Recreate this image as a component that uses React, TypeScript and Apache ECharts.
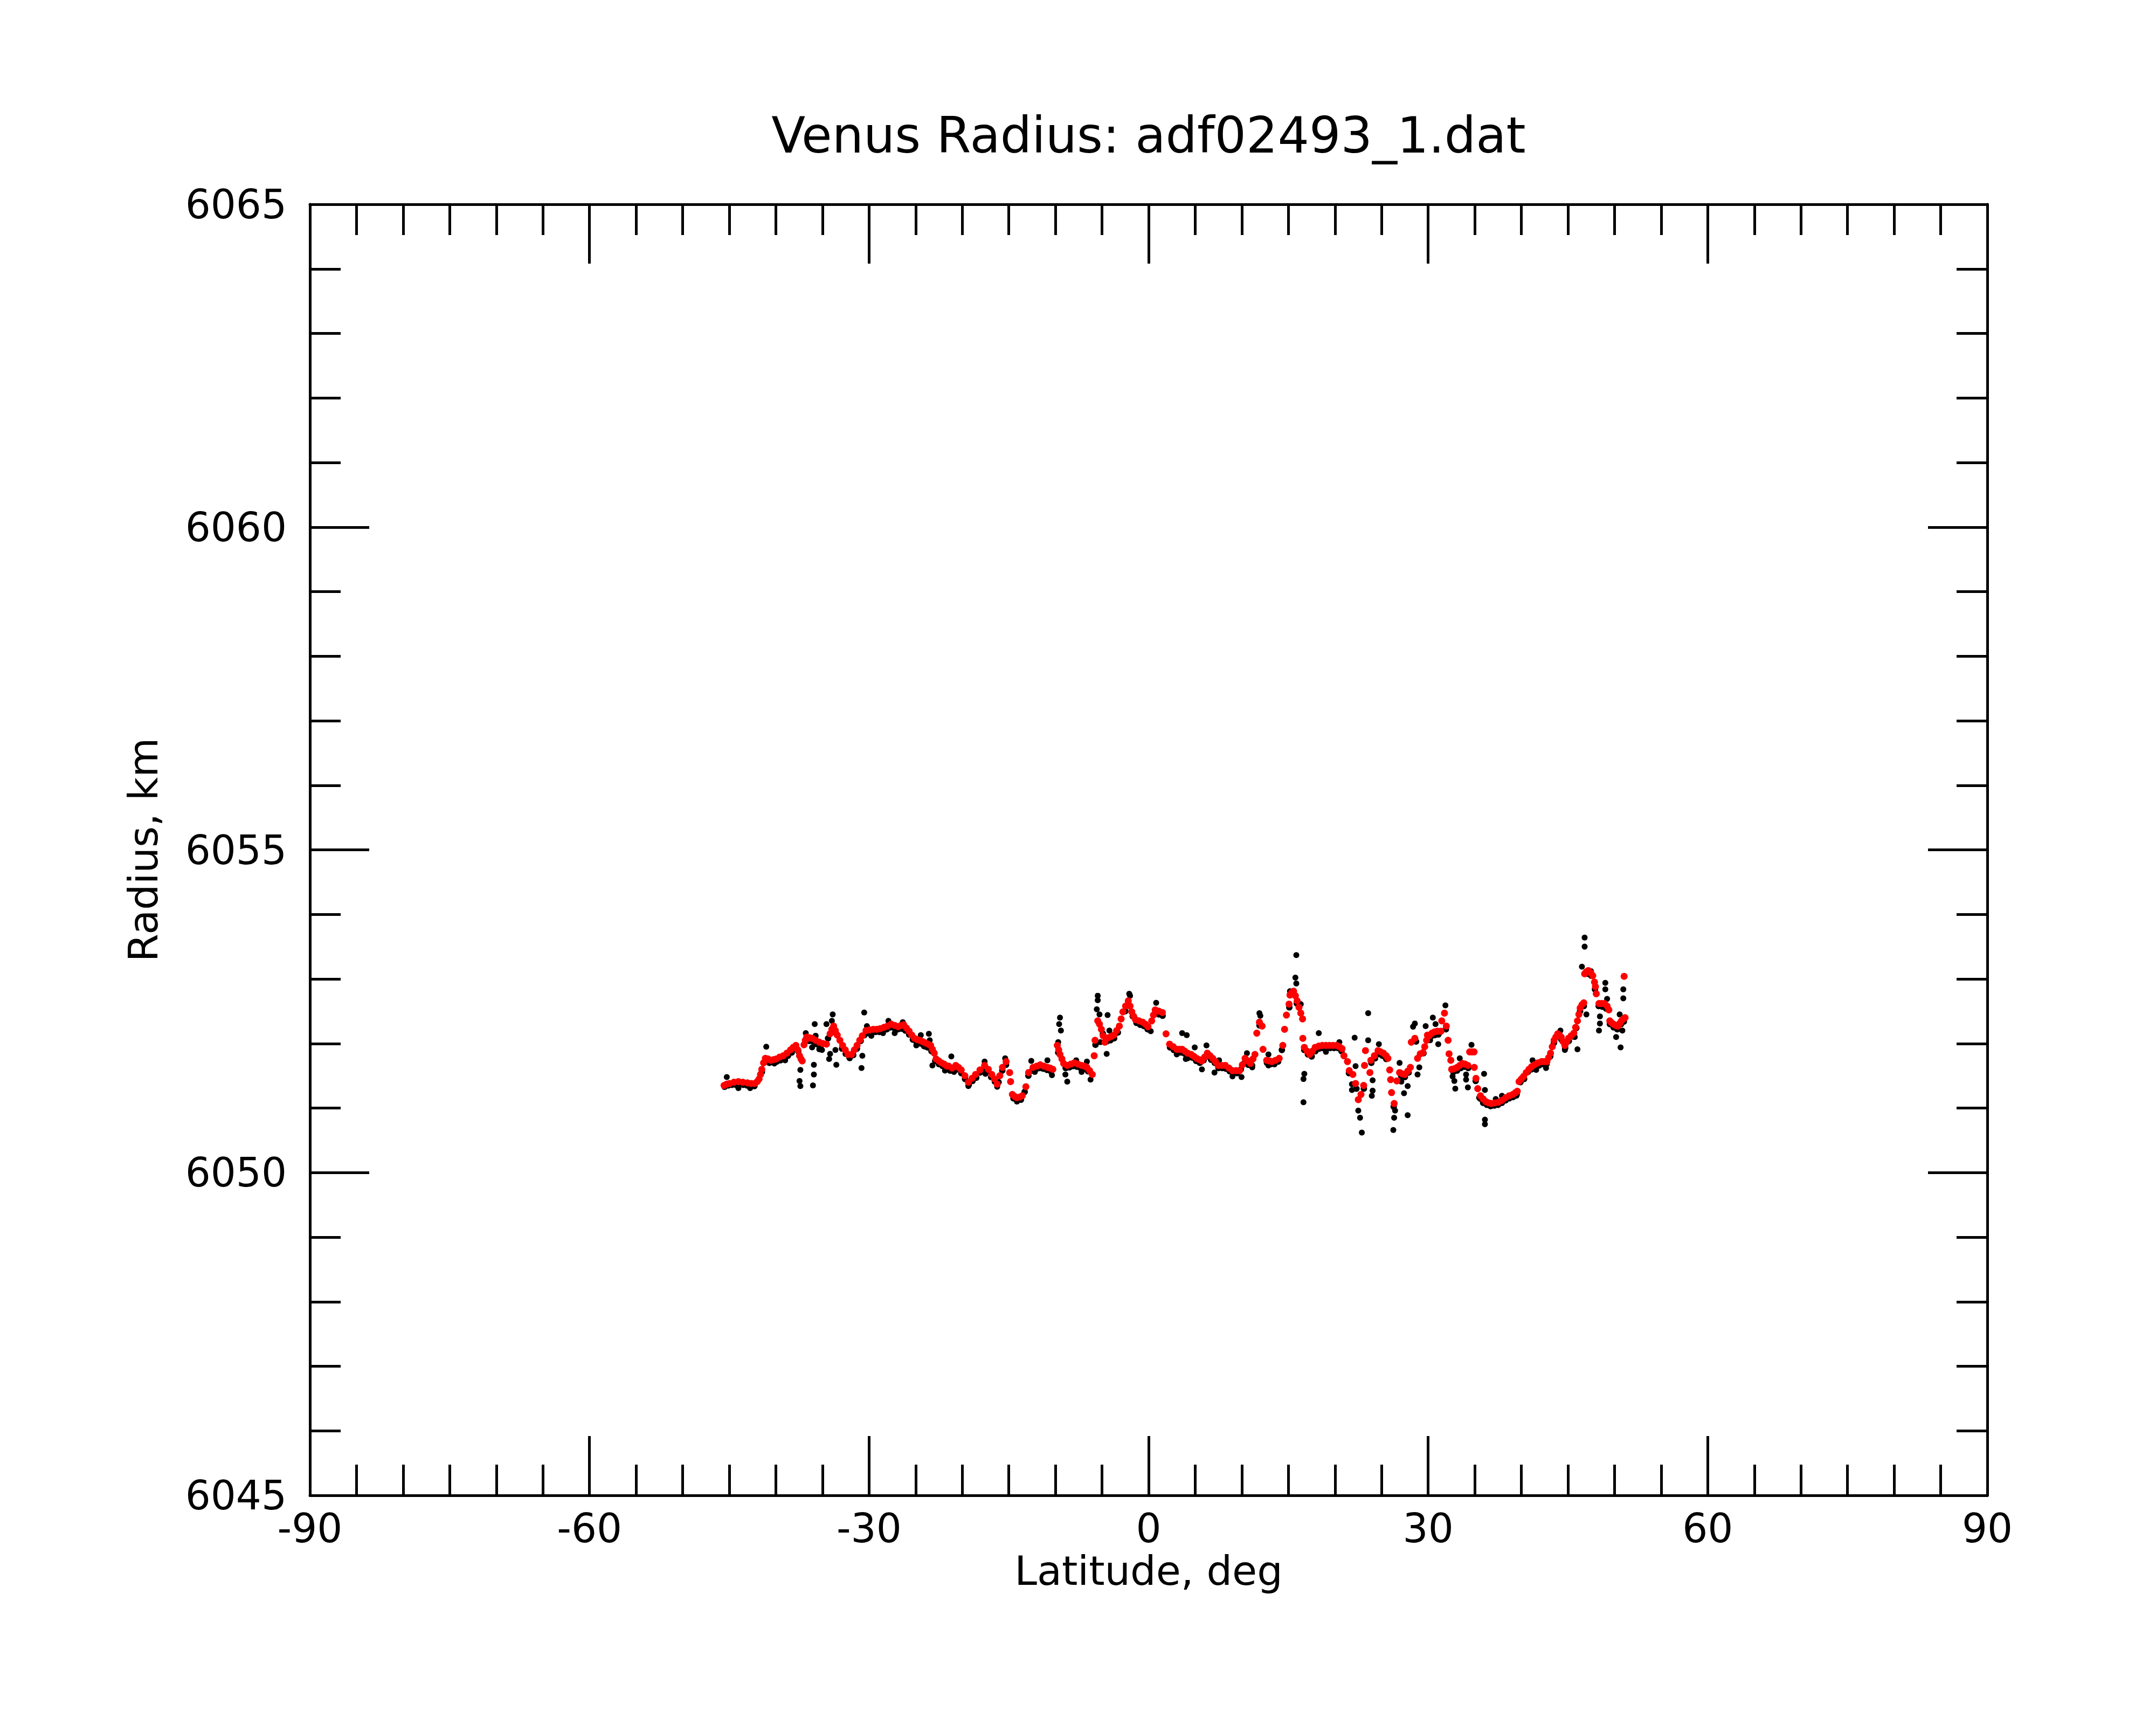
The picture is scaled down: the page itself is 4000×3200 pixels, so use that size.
import React, { useEffect, useRef } from "react";
import * as echarts from "echarts";

const TITLE = "Venus Radius: adf02493_1.dat";
const X_NAME = "Latitude, deg";
const Y_NAME = "Radius, km";
const X_MIN = -90;
const X_MAX = 90;
const X_STEP = 30;
const Y_MIN = 6045;
const Y_MAX = 6065;
const Y_STEP = 5;

// Smoothed radius (red dots): [latitude, radius]
const smoothed: number[][] = [
  [-45.56, 6051.35], [-45.27, 6051.37], [-44.98, 6051.38], [-44.5, 6051.4], [-44.02, 6051.41], [-43.55, 6051.4],
  [-43.05, 6051.39], [-42.66, 6051.38], [-42.28, 6051.38], [-42.0, 6051.41], [-41.8, 6051.45], [-41.65, 6051.52],
  [-41.51, 6051.6], [-41.32, 6051.7], [-41.13, 6051.77], [-40.84, 6051.76], [-40.55, 6051.74], [-40.26, 6051.75],
  [-39.97, 6051.76], [-39.59, 6051.79], [-39.2, 6051.81], [-38.82, 6051.85], [-38.43, 6051.9], [-38.14, 6051.94],
  [-37.85, 6051.97], [-37.65, 6051.9], [-37.46, 6051.81], [-37.3, 6051.76], [-37.17, 6051.73], [-36.98, 6051.98],
  [-36.84, 6052.05], [-36.69, 6052.1], [-36.4, 6052.09], [-36.11, 6052.08], [-35.73, 6052.05], [-35.34, 6052.02],
  [-34.96, 6052.0], [-34.57, 6051.99], [-34.18, 6052.15], [-33.99, 6052.22], [-33.8, 6052.27], [-33.61, 6052.2],
  [-33.41, 6052.13], [-33.13, 6052.05], [-32.84, 6051.97], [-32.55, 6051.9], [-32.26, 6051.83], [-31.87, 6051.83],
  [-31.58, 6051.9], [-31.29, 6051.97], [-31.0, 6052.05], [-30.72, 6052.12], [-30.33, 6052.2], [-29.95, 6052.21],
  [-29.56, 6052.22], [-29.17, 6052.22], [-28.79, 6052.23], [-28.4, 6052.25], [-28.02, 6052.27], [-27.63, 6052.3],
  [-27.25, 6052.28], [-26.86, 6052.26], [-26.57, 6052.28], [-26.28, 6052.29], [-25.99, 6052.24], [-25.7, 6052.19],
  [-25.41, 6052.13], [-25.12, 6052.08], [-24.84, 6052.06], [-24.55, 6052.05], [-24.26, 6052.03], [-23.97, 6052.01],
  [-23.68, 6051.99], [-23.39, 6051.97], [-23.2, 6051.91], [-23.0, 6051.85], [-22.81, 6051.76], [-22.52, 6051.73],
  [-22.23, 6051.7], [-21.94, 6051.68], [-21.65, 6051.65], [-21.46, 6051.65], [-21.08, 6051.62], [-20.69, 6051.66],
  [-20.4, 6051.63], [-20.11, 6051.59], [-19.72, 6051.5], [-19.34, 6051.4], [-18.95, 6051.46], [-18.57, 6051.52],
  [-18.1, 6051.59], [-17.6, 6051.66], [-17.2, 6051.6], [-16.83, 6051.52], [-16.54, 6051.45], [-16.25, 6051.37],
  [-15.97, 6051.5], [-15.68, 6051.63], [-15.29, 6051.72], [-14.91, 6051.55], [-14.81, 6051.41], [-14.62, 6051.21],
  [-14.38, 6051.18], [-14.13, 6051.16], [-13.85, 6051.17], [-13.56, 6051.19], [-13.17, 6051.33], [-12.88, 6051.55],
  [-12.4, 6051.63], [-12.0, 6051.65], [-11.63, 6051.67], [-11.25, 6051.65], [-10.86, 6051.63], [-10.57, 6051.62],
  [-10.28, 6051.6], [-9.8, 6051.97], [-9.65, 6051.9], [-9.51, 6051.83], [-9.3, 6051.76], [-9.12, 6051.69],
  [-8.73, 6051.66], [-8.35, 6051.68], [-7.97, 6051.7], [-7.58, 6051.68], [-7.19, 6051.66], [-6.9, 6051.65],
  [-6.62, 6051.63], [-6.33, 6051.58], [-6.04, 6051.52], [-5.84, 6051.81], [-5.75, 6052.05], [-5.46, 6052.35],
  [-5.27, 6052.3], [-5.07, 6052.22], [-4.88, 6052.12], [-4.69, 6052.02], [-4.3, 6052.09], [-4.0, 6052.11],
  [-3.72, 6052.13], [-3.43, 6052.2], [-3.14, 6052.27], [-2.95, 6052.38], [-2.76, 6052.49], [-2.47, 6052.58],
  [-2.18, 6052.66], [-1.99, 6052.58], [-1.8, 6052.49], [-1.6, 6052.42], [-1.41, 6052.37], [-1.02, 6052.35],
  [-0.64, 6052.33], [-0.35, 6052.3], [-0.06, 6052.26], [0.33, 6052.35], [0.52, 6052.44], [0.71, 6052.52],
  [1.1, 6052.5], [1.48, 6052.48], [1.87, 6052.15], [2.25, 6051.99], [2.64, 6051.95], [3.02, 6051.91],
  [3.31, 6051.91], [3.6, 6051.91], [3.89, 6051.88], [4.18, 6051.85], [4.57, 6051.83], [4.86, 6051.8],
  [5.15, 6051.77], [5.44, 6051.75], [5.72, 6051.73], [6.01, 6051.79], [6.3, 6051.85], [6.59, 6051.81],
  [6.88, 6051.77], [7.17, 6051.72], [7.46, 6051.66], [7.85, 6051.66], [8.23, 6051.66], [8.62, 6051.62],
  [9.0, 6051.58], [9.39, 6051.58], [9.77, 6051.58], [10.06, 6051.67], [10.35, 6051.77], [10.64, 6051.73],
  [10.93, 6051.69], [11.2, 6051.76], [11.41, 6051.83], [11.61, 6052.16], [11.89, 6052.33], [12.18, 6052.27],
  [12.28, 6051.91], [12.67, 6051.74], [12.95, 6051.73], [13.24, 6051.72], [13.62, 6051.74], [14.01, 6051.77],
  [14.4, 6051.97], [14.59, 6052.22], [14.79, 6052.44], [15.07, 6052.61], [15.17, 6052.75], [15.36, 6052.79],
  [15.56, 6052.81], [15.75, 6052.74], [15.94, 6052.66], [16.14, 6052.56], [16.33, 6052.47], [16.52, 6052.38],
  [16.55, 6052.08], [16.71, 6051.94], [17.0, 6051.88], [17.29, 6051.83], [17.58, 6051.88], [17.87, 6051.94],
  [18.26, 6051.96], [18.64, 6051.97], [19.03, 6051.97], [19.41, 6051.97], [19.8, 6051.97], [20.18, 6051.97],
  [20.47, 6051.95], [20.76, 6051.92], [20.96, 6051.81], [21.34, 6051.72], [21.53, 6051.58], [21.92, 6051.52],
  [22.21, 6051.38], [22.5, 6051.13], [22.79, 6051.21], [23.08, 6051.35], [23.17, 6051.66], [23.27, 6051.89],
  [23.75, 6051.55], [23.85, 6051.74], [24.23, 6051.81], [24.62, 6051.89], [24.91, 6051.87], [25.2, 6051.85],
  [25.49, 6051.81], [25.68, 6051.77], [25.87, 6051.59], [25.97, 6051.44], [26.07, 6051.24], [26.35, 6051.07],
  [26.64, 6051.42], [26.93, 6051.55], [27.22, 6051.53], [27.51, 6051.52], [27.8, 6051.57], [28.09, 6051.63],
  [28.19, 6052.02], [28.57, 6052.08], [28.86, 6051.77], [29.15, 6051.84], [29.44, 6051.86], [29.63, 6051.95],
  [29.83, 6052.05], [29.92, 6052.13], [30.11, 6052.12], [30.4, 6052.16], [30.69, 6052.18], [30.98, 6052.19],
  [31.37, 6052.19], [31.46, 6052.35], [31.75, 6052.47], [31.95, 6052.27], [32.14, 6052.05], [32.24, 6051.84],
  [32.43, 6051.74], [32.52, 6051.6], [32.81, 6051.61], [33.1, 6051.63], [33.39, 6051.66], [33.68, 6051.69],
  [33.97, 6051.68], [34.26, 6051.66], [34.45, 6051.87], [34.7, 6051.87], [34.93, 6051.87], [34.95, 6051.63],
  [35.13, 6051.46], [35.32, 6051.3], [35.61, 6051.19], [35.9, 6051.14], [36.19, 6051.1], [36.48, 6051.08],
  [36.77, 6051.07], [37.15, 6051.08], [37.54, 6051.09], [37.92, 6051.12], [38.31, 6051.16], [38.7, 6051.19],
  [39.08, 6051.21], [39.37, 6051.24], [39.56, 6051.26], [39.75, 6051.41], [40.0, 6051.45], [40.24, 6051.49],
  [40.52, 6051.55], [40.81, 6051.6], [41.1, 6051.64], [41.39, 6051.67], [41.78, 6051.7], [42.16, 6051.72],
  [42.45, 6051.72], [42.74, 6051.72], [42.93, 6051.78], [43.13, 6051.85], [43.32, 6051.95], [43.51, 6052.05],
  [43.7, 6052.1], [43.9, 6052.15], [44.09, 6052.13], [44.28, 6052.1], [44.47, 6052.03], [44.67, 6051.97],
  [44.86, 6052.02], [45.06, 6052.08], [45.34, 6052.12], [45.63, 6052.16], [45.82, 6052.25], [46.02, 6052.35],
  [46.17, 6052.45], [46.31, 6052.55], [46.5, 6052.6], [46.7, 6052.63], [46.79, 6053.08], [46.98, 6053.11],
  [47.18, 6053.13], [47.47, 6053.09], [47.66, 6053.05], [47.85, 6052.95], [47.95, 6052.88], [48.04, 6052.77],
  [48.33, 6052.62], [48.62, 6052.62], [48.91, 6052.62], [49.2, 6052.58], [49.39, 6052.52], [49.49, 6052.35],
  [49.68, 6052.32], [49.88, 6052.3], [50.1, 6052.28], [50.36, 6052.27], [50.55, 6052.31], [50.74, 6052.35],
  [50.94, 6052.38], [51.13, 6052.4], [51.03, 6053.04],
];

// Raw radius (black dots), main band
const rawBand: number[][] = [
  [-45.5, 6051.33], [-45.1, 6051.35], [-44.7, 6051.36], [-44.3, 6051.36], [-43.9, 6051.37], [-43.5, 6051.36],
  [-43.1, 6051.35], [-42.7, 6051.34], [-42.3, 6051.34], [-41.5, 6051.56], [-40.7, 6051.7], [-40.3, 6051.71],
  [-39.9, 6051.72], [-39.5, 6051.74], [-39.1, 6051.76], [-38.7, 6051.81], [-38.3, 6051.86], [-37.6, 6051.88],
  [-36.8, 6052.04], [-36.4, 6052.04], [-36.0, 6052.03], [-35.6, 6051.99], [-35.2, 6051.96], [-34.4, 6052.08],
  [-33.6, 6052.17], [-32.9, 6051.92], [-32.5, 6051.84], [-32.1, 6051.78], [-31.7, 6051.82], [-31.3, 6051.92],
  [-30.9, 6052.04], [-30.5, 6052.13], [-30.1, 6052.16], [-29.7, 6052.17], [-29.3, 6052.18], [-28.9, 6052.18],
  [-28.5, 6052.2], [-28.1, 6052.22], [-27.7, 6052.25], [-27.3, 6052.24], [-26.9, 6052.22], [-26.5, 6052.23],
  [-26.1, 6052.2], [-25.7, 6052.14], [-25.3, 6052.06], [-24.9, 6052.02], [-24.5, 6052.0], [-24.1, 6051.96],
  [-23.7, 6051.94], [-23.3, 6051.88], [-22.9, 6051.73], [-22.5, 6051.68], [-22.1, 6051.65], [-21.7, 6051.6],
  [-21.3, 6051.58], [-20.9, 6051.58], [-20.5, 6051.6], [-20.1, 6051.54], [-19.7, 6051.45], [-19.3, 6051.36],
  [-18.9, 6051.42], [-18.5, 6051.47], [-18.1, 6051.55], [-17.7, 6051.61], [-17.3, 6051.57], [-16.9, 6051.48],
  [-16.5, 6051.41], [-16.1, 6051.4], [-15.7, 6051.58], [-15.3, 6051.67], [-14.5, 6051.15], [-14.1, 6051.12],
  [-13.7, 6051.13], [-13.3, 6051.25], [-12.9, 6051.5], [-12.5, 6051.58], [-12.1, 6051.6], [-11.7, 6051.62],
  [-11.3, 6051.61], [-10.9, 6051.59], [-10.5, 6051.57], [-9.7, 6051.86], [-8.9, 6051.62], [-8.5, 6051.63],
  [-8.1, 6051.65], [-7.7, 6051.64], [-7.3, 6051.62], [-6.9, 6051.61], [-6.5, 6051.57], [-5.7, 6051.98],
  [-4.9, 6052.15], [-4.5, 6052.03], [-4.1, 6052.05], [-3.7, 6052.08], [-3.3, 6052.17], [-2.5, 6052.5],
  [-1.7, 6052.42], [-1.3, 6052.32], [-0.9, 6052.29], [-0.5, 6052.27], [-0.1, 6052.22], [0.7, 6052.47],
  [1.1, 6052.45], [1.5, 6052.43], [2.3, 6051.94], [2.7, 6051.9], [3.1, 6051.86], [3.5, 6051.86],
  [3.9, 6051.84], [4.3, 6051.8], [4.7, 6051.78], [5.1, 6051.73], [5.5, 6051.7], [5.9, 6051.74],
  [6.3, 6051.8], [6.7, 6051.75], [7.1, 6051.7], [7.5, 6051.62], [7.9, 6051.62], [8.3, 6051.61],
  [8.7, 6051.57], [9.1, 6051.54], [9.5, 6051.54], [9.9, 6051.6], [10.3, 6051.7], [10.7, 6051.67],
  [11.1, 6051.66], [11.9, 6052.28], [12.7, 6051.7], [13.1, 6051.68], [13.5, 6051.68], [13.9, 6051.72],
  [14.3, 6051.9], [15.1, 6052.56], [15.9, 6052.62], [16.7, 6051.9], [17.1, 6051.83], [17.5, 6051.8],
  [17.9, 6051.88], [18.3, 6051.92], [18.7, 6051.93], [19.1, 6051.93], [19.5, 6051.93], [19.9, 6051.93],
  [20.3, 6051.93], [20.7, 6051.88], [21.5, 6051.54], [22.3, 6051.3], [23.1, 6051.3], [23.9, 6051.7],
  [24.3, 6051.77], [24.7, 6051.84], [25.1, 6051.81], [25.5, 6051.76], [26.3, 6051.02], [27.1, 6051.5],
  [27.5, 6051.48], [27.9, 6051.55], [28.7, 6052.03], [29.5, 6051.85], [30.3, 6052.11], [30.7, 6052.13],
  [31.1, 6052.14], [31.9, 6052.22], [32.7, 6051.56], [33.1, 6051.58], [33.5, 6051.62], [33.9, 6051.64],
  [34.3, 6051.62], [35.1, 6051.42], [35.5, 6051.16], [35.9, 6051.08], [36.3, 6051.05], [36.7, 6051.03],
  [37.1, 6051.04], [37.5, 6051.05], [37.9, 6051.08], [38.3, 6051.12], [38.7, 6051.15], [39.1, 6051.17],
  [39.5, 6051.21], [39.9, 6051.4], [40.3, 6051.45], [40.7, 6051.56], [41.1, 6051.6], [41.5, 6051.63],
  [41.9, 6051.66], [42.3, 6051.68], [42.7, 6051.68], [43.1, 6051.8], [43.5, 6052.01], [43.9, 6052.11],
  [44.3, 6052.06], [44.7, 6051.93], [45.1, 6052.04], [45.5, 6052.11], [45.9, 6052.24], [46.3, 6052.5],
  [46.7, 6052.58], [47.1, 6053.08], [47.5, 6053.05], [47.9, 6052.84], [48.3, 6052.58], [48.7, 6052.57],
  [49.1, 6052.54], [49.5, 6052.3], [49.9, 6052.25], [50.3, 6052.22], [50.7, 6052.3], [51.0, 6052.34],
];

// Raw radius (black dots), scattered points off the band
const rawScatter: number[][] = [
  [-45.27, 6051.48], [-44.02, 6051.31], [-42.76, 6051.31], [-41.03, 6051.95], [-40.16, 6051.69], [-39.0, 6051.74],
  [-37.37, 6051.59], [-37.46, 6051.42], [-37.37, 6051.34], [-36.79, 6052.16], [-35.83, 6052.3], [-35.73, 6052.12],
  [-36.11, 6051.94], [-35.92, 6051.67], [-35.92, 6051.52], [-36.02, 6051.35], [-35.34, 6051.91], [-35.05, 6051.9],
  [-33.9, 6052.45], [-33.99, 6052.35], [-34.57, 6052.3], [-33.61, 6051.9], [-34.18, 6051.84], [-34.28, 6051.76],
  [-33.51, 6051.67], [-32.07, 6051.77], [-30.52, 6052.48], [-30.23, 6052.27], [-30.72, 6051.81], [-30.81, 6051.62],
  [-29.75, 6052.12], [-28.5, 6052.16], [-27.92, 6052.35], [-27.25, 6052.16], [-26.38, 6052.33], [-24.93, 6051.97],
  [-24.45, 6052.13], [-23.97, 6051.95], [-23.58, 6052.15], [-23.49, 6052.05], [-23.2, 6051.66], [-21.85, 6051.58],
  [-21.17, 6051.8], [-21.17, 6051.58], [-20.88, 6051.56], [-19.34, 6051.34], [-17.6, 6051.72], [-17.51, 6051.53],
  [-16.25, 6051.33], [-15.39, 6051.77], [-14.13, 6051.1], [-12.59, 6051.73], [-12.21, 6051.56], [-10.86, 6051.74],
  [-10.37, 6051.51], [-9.51, 6052.4], [-9.6, 6052.3], [-9.41, 6052.2], [-9.7, 6052.02], [-8.93, 6051.52],
  [-8.73, 6051.41], [-7.77, 6051.74], [-7.19, 6051.56], [-6.62, 6051.72], [-6.23, 6051.44], [-5.46, 6052.74],
  [-5.46, 6052.67], [-5.56, 6052.53], [-5.27, 6052.45], [-4.4, 6052.44], [-4.21, 6052.2], [-5.17, 6052.02],
  [-4.5, 6051.84], [-3.72, 6052.08], [-2.08, 6052.77], [-1.99, 6052.74], [-0.74, 6052.3], [0.23, 6052.19],
  [0.81, 6052.63], [3.6, 6052.16], [3.02, 6051.83], [3.99, 6051.76], [4.09, 6052.13], [4.18, 6051.77],
  [4.95, 6051.94], [5.72, 6051.6], [6.21, 6051.97], [7.07, 6051.55], [7.56, 6051.74], [9.0, 6051.49],
  [9.97, 6051.48], [10.55, 6051.85], [11.12, 6051.63], [11.89, 6052.47], [11.99, 6052.43], [12.86, 6051.83],
  [12.86, 6051.66], [15.85, 6053.37], [15.75, 6053.02], [15.85, 6052.93], [15.17, 6052.81], [16.33, 6052.61],
  [16.71, 6051.53], [16.62, 6051.45], [16.62, 6051.09], [18.26, 6052.16], [19.03, 6051.87], [20.47, 6052.02],
  [22.11, 6052.09], [22.21, 6051.65], [21.82, 6051.37], [21.82, 6051.28], [22.5, 6050.96], [22.69, 6050.85],
  [22.88, 6050.62], [23.56, 6052.47], [23.56, 6052.05], [24.04, 6051.43], [24.04, 6051.27], [23.95, 6051.19],
  [24.71, 6051.99], [24.81, 6051.83], [26.93, 6051.7], [26.45, 6050.96], [26.35, 6050.85], [26.26, 6050.66],
  [27.12, 6051.41], [27.41, 6051.23], [27.8, 6051.34], [27.8, 6050.89], [28.38, 6052.26], [28.57, 6052.31],
  [29.05, 6051.63], [28.86, 6051.52], [29.73, 6052.27], [30.5, 6052.4], [30.79, 6052.3], [30.21, 6052.05],
  [31.08, 6051.99], [31.85, 6052.59], [33.39, 6051.77], [32.62, 6051.49], [32.81, 6051.42], [32.91, 6051.3],
  [34.07, 6051.52], [34.07, 6051.44], [34.26, 6051.32], [34.65, 6051.98], [36.0, 6051.53], [36.09, 6051.28],
  [36.09, 6050.82], [36.09, 6050.75], [35.61, 6051.14], [37.25, 6051.14], [37.92, 6051.19], [39.47, 6051.19],
  [41.2, 6051.74], [41.59, 6051.59], [42.65, 6051.62], [44.19, 6052.2], [44.67, 6051.9], [45.73, 6052.1],
  [46.02, 6051.91], [46.98, 6052.45], [46.79, 6053.64], [46.79, 6053.5], [46.5, 6053.19], [47.47, 6053.12],
  [49.01, 6052.94], [49.01, 6052.84], [49.2, 6052.69], [48.43, 6052.42], [48.43, 6052.31], [48.33, 6052.2],
  [50.94, 6052.84], [50.94, 6052.7], [50.55, 6052.45], [50.17, 6052.1], [50.65, 6051.94], [50.84, 6052.2],
];

const FONT = "DejaVu Sans";
const LW = 5;

function axisCommon(showLabel: boolean) {
  return {
    axisLine: { show: true, onZero: false, lineStyle: { color: "#000", width: LW } },
    axisTick: { show: true, inside: true, length: 110, lineStyle: { color: "#000", width: LW } },
    minorTick: { show: true, length: 57, lineStyle: { color: "#000", width: LW } },
    splitLine: { show: false },
    minorSplitLine: { show: false },
    axisLabel: {
      show: showLabel, color: "#000", fontSize: 74, fontFamily: FONT,
      showMinLabel: true, showMaxLabel: true,
      formatter: (v: number) => String(v),
    },
  };
}

export default function App() {
  const ref = useRef<HTMLDivElement>(null);
  useEffect(() => {
    if (!ref.current) return;
    const chart = echarts.init(ref.current, undefined, { renderer: "svg" });
    const left = 575, top = 379, width = 3112, height = 2395;
    const xBase = (pos: string, show: boolean) => {
      const c: any = axisCommon(show);
      return {
        type: "value", position: pos, min: X_MIN, max: X_MAX, interval: X_STEP,
        ...c,
        minorTick: { ...c.minorTick, splitNumber: 6 },
        axisLabel: { ...c.axisLabel, margin: 24 },
      };
    };
    const yBase = (pos: string, show: boolean) => {
      const c: any = axisCommon(show);
      return {
        type: "value", position: pos, min: Y_MIN, max: Y_MAX, interval: Y_STEP,
        ...c,
        minorTick: { ...c.minorTick, splitNumber: 5 },
        axisLabel: { ...c.axisLabel, margin: 43 },
      };
    };
    chart.setOption({
      animation: false,
      backgroundColor: "#fff",
      textStyle: { fontFamily: FONT },
      grid: { left, top, width, height, containLabel: false },
      graphic: [
        {
          type: "text",
          x: left + width / 2,
          y: 251,
          style: { text: TITLE, fontSize: 92, fontFamily: FONT, fill: "#000", textAlign: "center", textVerticalAlign: "middle" },
        },
      ],
      xAxis: [
        {
          ...xBase("bottom", true),
          name: X_NAME, nameLocation: "middle", nameGap: 100,
          nameTextStyle: { color: "#000", fontSize: 75, fontFamily: FONT },
        },
        xBase("top", false),
      ],
      yAxis: [
        {
          ...yBase("left", true),
          name: Y_NAME, nameLocation: "middle", nameGap: 272,
          nameTextStyle: { color: "#000", fontSize: 75, fontFamily: FONT },
        },
        yBase("right", false),
      ],
      series: [
        {
          type: "scatter", xAxisIndex: 0, yAxisIndex: 0, symbol: "circle", symbolSize: 12,
          itemStyle: { color: "#000", opacity: 1 }, data: rawBand, silent: true,
        },
        {
          type: "scatter", xAxisIndex: 0, yAxisIndex: 0, symbol: "circle", symbolSize: 11,
          itemStyle: { color: "#000", opacity: 1 }, data: rawScatter, silent: true,
        },
        {
          type: "scatter", xAxisIndex: 0, yAxisIndex: 0, symbol: "circle", symbolSize: 13,
          itemStyle: { color: "#ff0000", opacity: 1 }, data: smoothed, silent: true,
        },
      ],
    });
    return () => chart.dispose();
  }, []);
  return <div ref={ref} style={{ position: "fixed", left: 0, top: 0, width: 4000, height: 3200, background: "#fff" }} />;
}
